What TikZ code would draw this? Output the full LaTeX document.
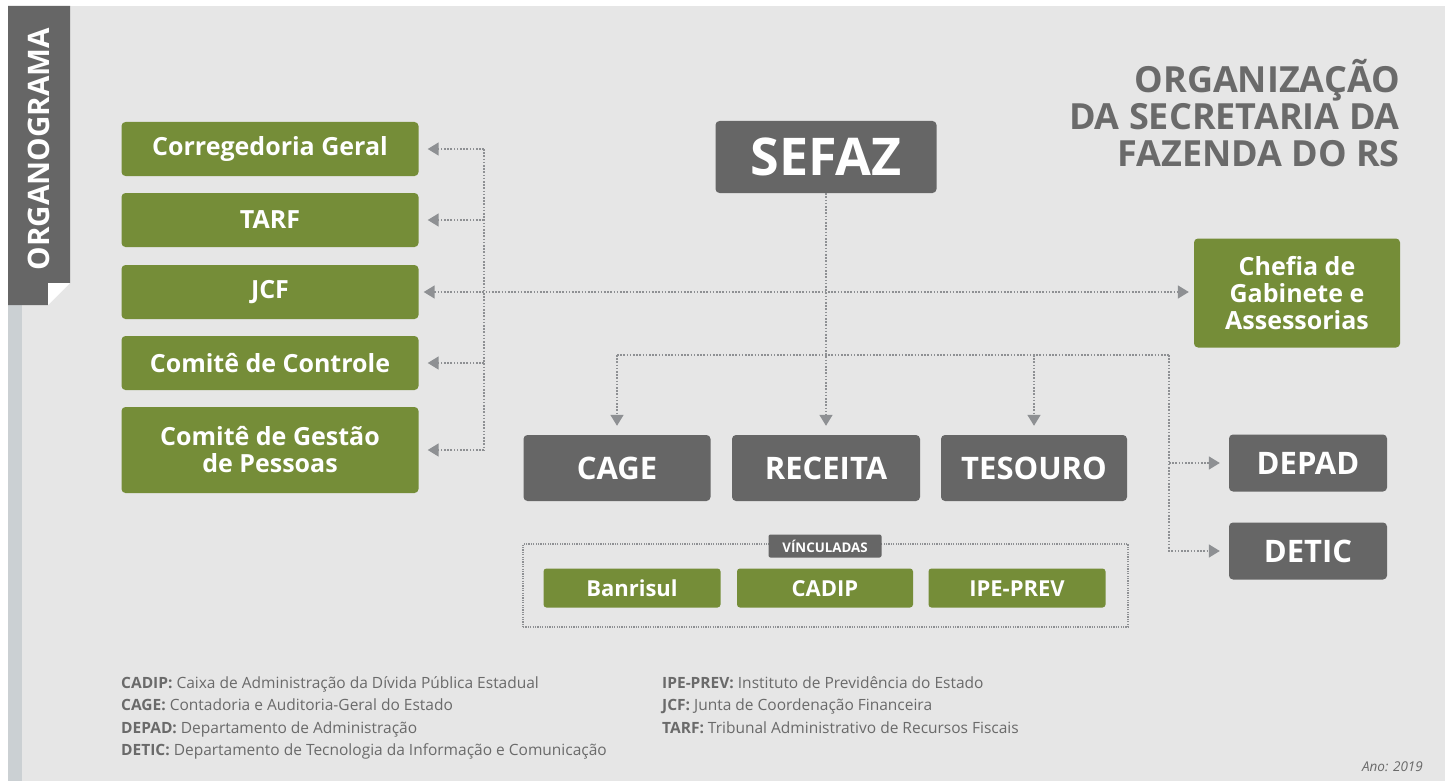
\documentclass[tikz,border=0pt]{standalone}
\usepackage{fontspec}
\setmainfont{Open Sans}
\usetikzlibrary{arrows.meta,positioning}
\definecolor{bg}{HTML}{E6E6E6}
\definecolor{strip}{HTML}{CBD0D3}
\definecolor{darkbox}{HTML}{666666}
\definecolor{greenbox}{HTML}{758D38}
\definecolor{dotline}{HTML}{8E9093}
\definecolor{txtgray}{HTML}{6A6A6A}
\tikzset{
  gbox/.style = {rectangle, rounded corners=4pt, fill=greenbox, text=white,
    font=\bfseries\fontsize{25}{27}\selectfont, align=center, inner sep=0pt},
  dbox/.style = {rectangle, rounded corners=4pt, fill=darkbox, text=white,
    font=\bfseries\fontsize{31}{32}\selectfont, align=center, inner sep=0pt},
  vbox/.style = {gbox, rounded corners=3pt, minimum height=39pt, text height=16pt, text depth=0pt,
    font=\bfseries\fontsize{22}{22}\selectfont},
  dline/.style = {draw=dotline, line width=1.6pt, dash pattern=on 1.6pt off 1.6pt},
  dedge/.style = {dline, -{Triangle[length=11pt,width=13pt]}, shorten >=9pt},
  note/.style = {anchor=base west, text=txtgray, inner sep=0pt, font=\fontsize{15.5}{18}\selectfont},
}
\begin{document}
\begin{tikzpicture}[x=1pt,y=-1pt]
\useasboundingbox (0,0) rectangle (1445,781);
\fill[white] (0,0) rectangle (1445,781);
\fill[bg] (8,6) rectangle (1445,781);
\fill[strip] (8,305) rectangle (22,781);
% aba lateral
\fill[darkbox] (8,6) -- (70,6) -- (70,283) -- (48,283) -- (48,305) -- (8,305) -- cycle;
\fill[white] (48,283) -- (70,283) -- (48,305) -- cycle;
\node[rotate=90, text=white, font=\bfseries\fontsize{29.6}{30}\selectfont, inner sep=0pt] (tab) at (39,149) {ORGANOGRAMA};

% titulo
\node[anchor=north east, align=right, text=txtgray, inner sep=0pt,
  font=\bfseries\fontsize{36}{37}\selectfont] (title) at (1400,59) {ORGANIZAÇÃO\\DA SECRETARIA DA\\FAZENDA DO RS};

% caixas da esquerda
\node[gbox, minimum width=297pt, minimum height=54pt] (corr) at (270,149) {Corregedoria Geral};
\node[gbox, minimum width=297pt, minimum height=54pt] (tarf) at (270,220) {TARF};
\node[gbox, minimum width=297pt, minimum height=54pt] (jcf) at (270,292) {JCF};
\node[gbox, minimum width=297pt, minimum height=54pt] (ccont) at (270,363) {Comitê de Controle};
\node[gbox, minimum width=297pt, minimum height=86pt] (cgest) at (270,450) {Comitê de Gestão\\de Pessoas};

% centro
\node[dbox, minimum width=221pt, minimum height=72pt, font=\bfseries\fontsize{52}{52}\selectfont] (sefaz) at (826,157) {SEFAZ};
\node[gbox, minimum width=206pt, minimum height=109pt] (chefia) at (1297,293) {Chefia de\\Gabinete e\\Assessorias};
\node[dbox, minimum width=187pt, minimum height=66pt] (cage) at (617,468) {CAGE};
\node[dbox, minimum width=188pt, minimum height=66pt] (receita) at (826,468) {RECEITA};
\node[dbox, minimum width=186pt, minimum height=66pt] (tesouro) at (1034,468) {TESOURO};
\node[dbox, minimum width=158pt, minimum height=57pt] (depad) at (1308,463) {DEPAD};
\node[dbox, minimum width=158pt, minimum height=57pt] (detic) at (1308,551) {DETIC};

% vinculadas
\node[draw=dotline, line width=1.2pt, dash pattern=on 1.2pt off 1.2pt, minimum width=605pt, minimum height=83pt, inner sep=0pt] (vinc) at (825.5,585.5) {};
\node[dbox, rounded corners=2pt, minimum width=113pt, minimum height=23pt, font=\bfseries\fontsize{13.3}{14}\selectfont] (vlabel) at (825,546) {VÍNCULADAS};
\node[vbox, minimum width=177pt] (banri) at (632,588) {Banrisul};
\node[vbox, minimum width=176pt] (cadip) at (825,588) {CADIP};
\node[vbox, minimum width=177pt] (ipe) at (1017,588) {IPE-PREV};

% ligacoes
\coordinate (ltop) at (484,149);
\coordinate (lbot) at (484,450);
\coordinate (hub) at (826,355);
\coordinate (rtop) at (1169,355);
\draw[dline] (ltop) -- (lbot);
\draw[dedge] (ltop) -- (corr);
\draw[dedge] (ltop |- tarf) -- (tarf);
\draw[dedge] (ltop |- ccont) -- (ccont);
\draw[dedge] (lbot) -- (cgest);
\draw[dedge, {Triangle[length=11pt,width=13pt]}-{Triangle[length=11pt,width=13pt]}, shorten <=5pt, shorten >=5pt] (jcf) -- (jcf -| chefia.west);
\draw[dedge] (sefaz) -- (receita);
\draw[dline] (cage |- hub) -- (rtop);
\draw[dedge] (cage |- hub) -- (cage);
\draw[dedge] (tesouro |- hub) -- (tesouro);
\draw[dedge] (rtop) |- (detic);
\draw[dedge] (rtop |- depad) -- (depad);

% legenda
\node[note] (n1) at (121,688) {\textbf{CADIP:} Caixa de Administração da Dívida Pública Estadual};
\node[note] (n2) at (121,710.5) {\textbf{CAGE:} Contadoria e Auditoria-Geral do Estado};
\node[note] (n3) at (121,733) {\textbf{DEPAD:} Departamento de Administração};
\node[note] (n4) at (121,755.5) {\textbf{DETIC:} Departamento de Tecnologia da Informação e Comunicação};
\node[note] (n5) at (662,688) {\textbf{IPE-PREV:} Instituto de Previdência do Estado};
\node[note] (n6) at (662,710.5) {\textbf{JCF:} Junta de Coordenação Financeira};
\node[note] (n7) at (662,733) {\textbf{TARF:} Tribunal Administrativo de Recursos Fiscais};
\node[note, anchor=base east, font=\itshape\fontsize{13.5}{14}\selectfont] (ano) at (1423,771) {Ano: 2019};
\end{tikzpicture}
\end{document}
